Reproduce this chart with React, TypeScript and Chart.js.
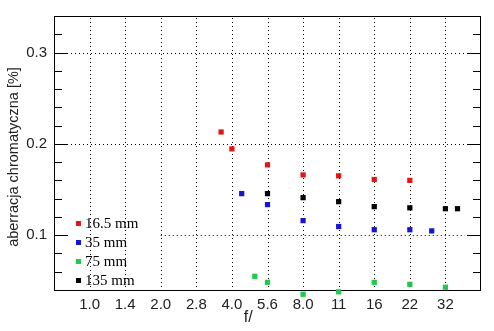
import React, { useEffect, useRef } from 'react';
import { Chart, registerables } from 'chart.js';

Chart.register(...registerables);

// ---- data ----
const fStops = [1.0, 1.4, 2.0, 2.8, 4.0, 5.6, 8.0, 11, 16, 22, 32];
const xTickLabels = ['1.0', '1.4', '2.0', '2.8', '4.0', '5.6', '8.0', '11', '16', '22', '32'];
const yMajorTicks = [0.1, 0.2, 0.3];
const yTickLabels = ['0.1', '0.2', '0.3'];

const seriesLabels = ['16.5 mm', '35 mm', '75 mm', '135 mm'];
const seriesColors = ['#e31515', '#1515d2', '#22c84a', '#000000'];

const f165 = [3.6, 4.0, 5.6, 8.0, 11, 16, 22];
const ca165 = [0.213, 0.1945, 0.177, 0.166, 0.165, 0.161, 0.16];

const f35 = [4.4, 5.6, 8.0, 11, 16, 22, 28];
const ca35 = [0.1455, 0.1335, 0.116, 0.1095, 0.106, 0.106, 0.1047];

const f75 = [5.0, 5.6, 8.0, 11, 16, 22, 32];
const ca75 = [0.055, 0.0484, 0.0353, 0.038, 0.0484, 0.0462, 0.043];

const f135 = [5.6, 8.0, 11, 16, 22, 32, 36];
const ca135 = [0.1455, 0.1411, 0.1367, 0.1313, 0.13, 0.129, 0.129];

const yTitle = 'aberracja chromatyczna [%]';
const xTitle = 'f/';

const yMin = 0.04;
const yMax = 0.34;
const yMinorStep = 0.02;

// position on the half-stop axis (f/1.0 = 0, each half stop = 1)
const stopPos = (f: number) => {
  const i = fStops.indexOf(f);
  return i >= 0 ? i : 2 * Math.log2(f);
};

const toPoints = (fs: number[], vs: number[]) => fs.map((f, i) => ({ x: stopPos(f), y: vs[i] }));

const NARROW = '"Liberation Sans Narrow", "Arial Narrow", "Liberation Sans", Arial, sans-serif';
const SANS = '"Liberation Sans", Arial, sans-serif';
const SERIF = '"Liberation Serif", "Times New Roman", serif';

const LEGEND_ROW = 18.9;

const framePlugin = {
  id: 'frame',
  beforeDatasetsDraw(chart: any) {
    const { ctx, chartArea: a, scales } = chart;
    const xs = scales.x;
    const ys = scales.y;
    const legendTop = a.bottom - 67 - LEGEND_ROW / 2;
    ctx.save();
    ctx.strokeStyle = '#000';
    ctx.lineWidth = 1;
    const line = (x1: number, y1: number, x2: number, y2: number) => {
      ctx.beginPath();
      ctx.moveTo(x1, y1);
      ctx.lineTo(x2, y2);
      ctx.stroke();
    };
    ctx.setLineDash([1, 3]);
    fStops.forEach((_f, i) => {
      const x = Math.round(xs.getPixelForValue(i)) + 0.5;
      line(x, a.top + 2, x, a.bottom);
    });
    yMajorTicks.forEach((v) => {
      const y = Math.round(ys.getPixelForValue(v)) + 0.5;
      const start = y > legendTop ? xs.getPixelForValue(2) : a.left + 17;
      line(start, y, a.right - 16, y);
    });
    ctx.setLineDash([]);
    for (let v = yMin + yMinorStep; v < yMax - 1e-9; v += yMinorStep) {
      const major = yMajorTicks.some((m) => Math.abs(m - v) < 1e-6);
      const len = major ? 14 : 8;
      const y = Math.round(ys.getPixelForValue(v)) + 0.5;
      line(a.left, y, a.left + len, y);
      line(a.right - len, y, a.right, y);
    }
    ctx.strokeRect(a.left + 0.5, a.top + 0.5, a.right - a.left - 1, a.bottom - a.top);
    ctx.restore();
  },
  afterDatasetsDraw(chart: any) {
    // points lying just outside the plot frame are still drawn (as in the original)
    const { ctx, chartArea: a } = chart;
    const full = { left: 0, top: 0, right: chart.width, bottom: chart.height };
    chart.data.datasets.forEach((_ds: any, di: number) => {
      const meta = chart.getDatasetMeta(di);
      meta.data.forEach((el: any) => {
        const r = 3;
        const inside = el.x >= a.left - r && el.x <= a.right + r && el.y >= a.top - r && el.y <= a.bottom + r;
        if (!inside) el.draw(ctx, full);
      });
    });
  },
  afterDraw(chart: any) {
    const { ctx, chartArea: a } = chart;
    ctx.save();
    // legend
    ctx.font = `15px ${SERIF}`;
    ctx.textBaseline = 'middle';
    ctx.textAlign = 'left';
    chart.data.datasets.forEach((ds: any, i: number) => {
      const yc = a.bottom - 67 + i * LEGEND_ROW;
      ctx.fillStyle = ds.backgroundColor;
      ctx.fillRect(a.left + 22, Math.round(yc) - 2, 5, 5);
      ctx.fillStyle = '#000';
      ctx.fillText(ds.label, a.left + 31, yc + 1);
    });
    // axis titles
    ctx.fillStyle = '#222';
    ctx.font = `14.5px ${SANS}`;
    ctx.textAlign = 'center';
    ctx.save();
    ctx.translate(14, (a.top + a.bottom) / 2 + 4);
    ctx.rotate(-Math.PI / 2);
    ctx.fillText(yTitle, 0, 0);
    ctx.restore();
    ctx.font = `16px ${NARROW}`;
    ctx.fillText(xTitle, a.left + (a.right - a.left) * 0.455, 318);
    ctx.restore();
  },
};

export default function App() {
  const ref = useRef<HTMLCanvasElement | null>(null);

  useEffect(() => {
    if (!ref.current) return;
    const series = [
      toPoints(f165, ca165),
      toPoints(f35, ca35),
      toPoints(f75, ca75),
      toPoints(f135, ca135),
    ];
    const chart = new Chart(ref.current, {
      type: 'scatter',
      data: {
        datasets: series.map((pts, i) => ({
          label: seriesLabels[i],
          data: pts,
          backgroundColor: seriesColors[i],
          borderColor: seriesColors[i],
          borderWidth: 0,
          pointStyle: 'rect',
          pointRadius: 3.7,
          pointHoverRadius: 3.7,
          clip: false as any,
        })),
      },
      options: {
        responsive: false,
        animation: false,
        events: [],
        layout: { padding: { top: 14, right: 13, left: 0, bottom: 0 } },
        plugins: {
          legend: { display: false },
          tooltip: { enabled: false },
        },
        scales: {
          x: {
            type: 'linear',
            min: -1,
            max: 11,
            grid: { display: false, drawTicks: false },
            border: { display: false },
            afterBuildTicks: (s: any) => {
              s.ticks = fStops.map((_f, i) => ({ value: i }));
            },
            afterFit: (s: any) => {
              s.height = 41;
            },
            ticks: {
              autoSkip: false,
              maxRotation: 0,
              padding: 6,
              color: '#222',
              font: { family: NARROW, size: 15 },
              callback: (v: any) => xTickLabels[Math.round(Number(v))] ?? '',
            },
          },
          y: {
            type: 'linear',
            min: yMin,
            max: yMax,
            grid: { display: false, drawTicks: false },
            border: { display: false },
            afterBuildTicks: (s: any) => {
              s.ticks = yMajorTicks.map((v) => ({ value: v }));
            },
            afterFit: (s: any) => {
              s.width = 54;
            },
            ticks: {
              padding: 7,
              color: '#222',
              font: { family: NARROW, size: 15 },
              callback: (v: any) => {
                const i = yMajorTicks.findIndex((m) => Math.abs(m - Number(v)) < 1e-6);
                return i >= 0 ? yTickLabels[i] : '';
              },
            },
          },
        },
      },
      plugins: [framePlugin],
    });
    return () => chart.destroy();
  }, []);

  return (
    <div style={{ position: 'fixed', left: 0, top: 0, width: 494, height: 331, background: '#fff' }}>
      <canvas ref={ref} width={494} height={331} style={{ width: 494, height: 331, display: 'block' }} />
    </div>
  );
}
